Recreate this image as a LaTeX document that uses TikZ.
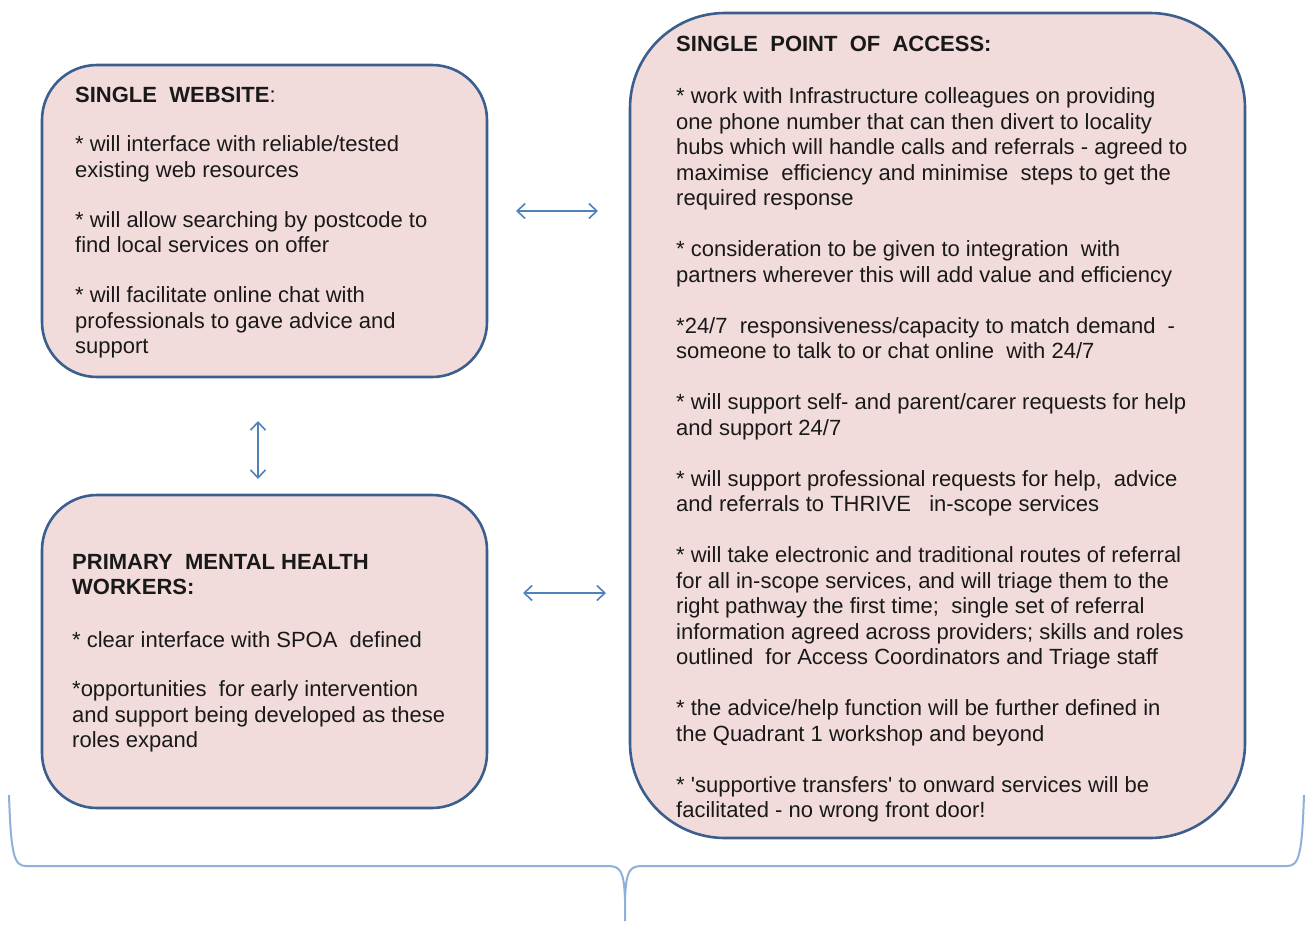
\documentclass[tikz,border=0pt]{standalone}
\usepackage{fontspec}
\setmainfont{Liberation Sans}
\usetikzlibrary{arrows.meta}
\definecolor{boxfill}{HTML}{F2DCDB}
\definecolor{boxline}{HTML}{3A5F8E}
\definecolor{arrowcol}{HTML}{4F81BD}
\definecolor{bracecol}{HTML}{8EB0DA}
\newcommand{\toprule}{\rule{0pt}{17pt}}
\tikzset{
  roundbox/.style={draw=boxline, line width=2.6pt, fill=boxfill, inner sep=0pt},
  boxtext/.style={anchor=north west, align=left, inner sep=0pt,
    font=\fontsize{22}{25.5}\selectfont, text=black!90},
  dblarrow/.style={draw=arrowcol, line width=1.6pt,
    {Straight Barb[length=8pt,width=15pt,line width=1.6pt]}-{Straight Barb[length=8pt,width=15pt,line width=1.6pt]}},
  bracestyle/.style={draw=bracecol, line width=2pt}
}
\begin{document}
\begin{tikzpicture}[x=1pt,y=-1pt]
\useasboundingbox (0,0) rectangle (1308,924);
% boxes
\node[roundbox, rounded corners=55pt, minimum width=445pt, minimum height=312pt] (web) at (264.5,221) {};
\node[roundbox, rounded corners=55pt, minimum width=445pt, minimum height=313pt] (pmhw) at (264.5,651.5) {};
\node[roundbox, rounded corners=95pt, minimum width=615pt, minimum height=825pt] (spoa) at (937.5,425.5) {};
% texts
\node[boxtext] (webtxt) at (75,85) {\toprule\textbf{SINGLE\ \ WEBSITE}:\\[24pt]
* will interface with reliable/tested\\
existing web resources\\[24.5pt]
* will allow searching by postcode to\\
find local services on offer\\[24.5pt]
* will facilitate online chat with\\
professionals to gave advice and\\
support};
\node[boxtext] (pmhwtxt) at (72,552) {\toprule\textbf{PRIMARY\ \ MENTAL HEALTH}\\
\textbf{WORKERS:}\\[27pt]
* clear interface with SPOA\ \ defined\\[24pt]
*opportunities\ \ for early intervention\\
and support being developed as these\\
roles expand};
\node[boxtext] (spoatxt) at (676,34) {\toprule\textbf{SINGLE\ \ POINT\ \ OF\ \ ACCESS:}\\[27pt]
* work with Infrastructure colleagues on providing\\
one phone number that can then divert to locality\\
hubs which will handle calls and referrals - agreed to\\
maximise\ \ efficiency and minimise\ \ steps to get the\\
required response\\[25.5pt]
* consideration to be given to integration\ \ with\\
partners wherever this will add value and efficiency\\[25.5pt]
*24/7\ \ responsiveness/capacity to match demand\ \ -\\
someone to talk to or chat online\ \ with 24/7\\[25.5pt]
* will support self- and parent/carer requests for help\\
and support 24/7\\[25.5pt]
* will support professional requests for help,\ \ advice\\
and referrals to THRIVE\ \ \ in-scope services\\[25.5pt]
* will take electronic and traditional routes of referral\\
for all in-scope services, and will triage them to the\\
right pathway the first time;\ \ single set of referral\\
information agreed across providers; skills and roles\\
outlined\ \ for Access Coordinators and Triage staff\\[25.5pt]
* the advice/help function will be further defined in\\
the Quadrant 1 workshop and beyond\\[25.5pt]
* \textquotesingle supportive transfers\textquotesingle\ to onward services will be\\
facilitated - no wrong front door!};
% arrows
\coordinate (a1l) at (516,211);
\coordinate (a1r) at (598,211);
\coordinate (a2t) at (258,421);
\coordinate (a2b) at (258,479);
\coordinate (a3l) at (523,593);
\coordinate (a3r) at (606,593);
\draw[dblarrow] (a1l) -- (a1r);
\draw[dblarrow] (a2t) -- (a2b);
\draw[dblarrow] (a3l) -- (a3r);
% brace
\coordinate (brl) at (9,795);
\coordinate (brr) at (1304,795);
\coordinate (brtip) at (625,921);
\draw[bracestyle] (brl) .. controls (11,855) and (14,866) .. (26,866)
  -- (608,866) .. controls (621,866) and (624,872) .. (625,900) -- (brtip);
\draw[bracestyle] (brr) .. controls (1302,855) and (1299,866) .. (1287,866)
  -- (642,866) .. controls (629,866) and (626,872) .. (625,900);
\end{tikzpicture}
\end{document}
